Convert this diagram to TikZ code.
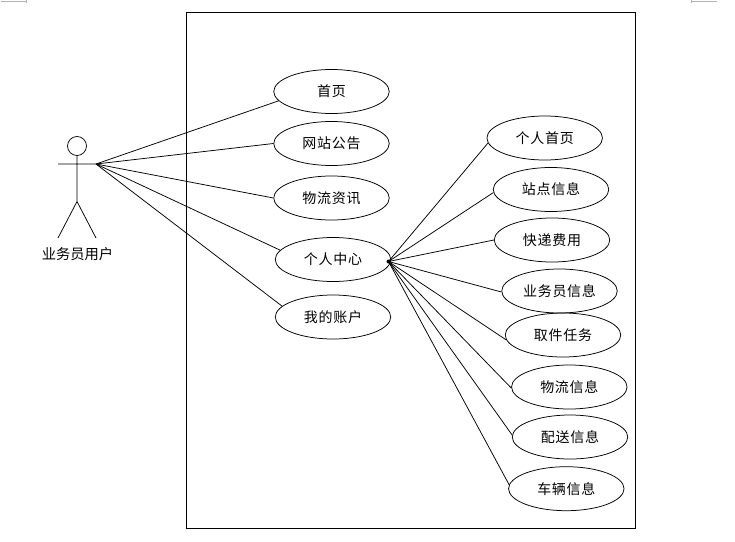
\documentclass[tikz,border=0pt]{standalone}
\usepackage{fontspec}
\newfontfamily\cjkf[LetterSpace=5]{Noto Sans CJK SC}
\newfontfamily\cjkact{Noto Sans CJK SC}
\usetikzlibrary{shapes.geometric}
\tikzset{
  usecase/.style={draw=black,line width=0.75pt,ellipse,minimum width=115.5pt,minimum height=44pt,inner sep=0pt,font=\cjkf\fontsize{14}{16}\selectfont},
  link/.style={draw=black,line width=0.75pt},
  lbl/.style={inner sep=0pt,font=\cjkact\fontsize{14.3}{16}\selectfont}
}
\begin{document}
\begin{tikzpicture}[x=1pt,y=-1pt]
\useasboundingbox (0,0) rectangle (735,541);
\draw[gray!60,line width=0.75pt] (1,1.5) -- (26,1.5) (26,0) -- (26,2.5);
\draw[gray!60,line width=0.75pt] (717,1.5) -- (691,1.5) (691,0) -- (691,2.5);
\node[draw=black,line width=0.75pt,minimum width=449pt,minimum height=516pt,inner sep=0pt] (frame) at (410.5,270.5) {};
% actor
\node[draw=black,line width=0.75pt,circle,minimum size=19pt,inner sep=0pt] (head) at (77,146) {};
\coordinate (lhand) at (58,164);
\coordinate (hub) at (96,164);
\coordinate (hip) at (77,201.5);
\coordinate (lfoot) at (58,238);
\coordinate (rfoot) at (96,238);
\draw[link] (head) -- (hip) (lhand) -- (hub) (lfoot) -- (hip) -- (rfoot);
\node[lbl] (actor) at (77.5,254) {业务员用户};
% left use cases
\node[usecase] (a1) at (331.5,91.5) {首页};
\node[usecase] (a2) at (331.5,143.5) {网站公告};
\node[usecase] (a3) at (331.5,198) {物流资讯};
\node[usecase] (a4) at (333,259.5) {个人中心};
\node[usecase] (a5) at (333,317) {我的账户};
% right use cases
\node[usecase] (b1) at (544.7,138) {个人首页};
\node[usecase] (b2) at (551,189.5) {站点信息};
\node[usecase] (b3) at (552,240) {快递费用};
\node[usecase] (b4) at (559.5,291) {业务员信息};
\node[usecase] (b5) at (563,335) {取件任务};
\node[usecase] (b6) at (569.3,387) {物流信息};
\node[usecase] (b7) at (570,437) {配送信息};
\node[usecase] (b8) at (566.3,488.7) {车辆信息};
\draw[link] (hub) -- (a1.190);
\draw[link] (hub) -- (a2.180);
\draw[link] (hub) -- (a3.180);
\draw[link] (hub) -- (a4.170);
\draw[link] (hub) -- (a5.168);
\coordinate (hubb) at (388.5,261.5);
\fill (hubb) circle (2pt);
\draw[link] (hubb) -- (b1.185);
\draw[link] (hubb) -- (b2.183);
\draw[link] (hubb) -- (b3.180);
\draw[link] (hubb) -- (b4.181);
\draw[link] (hubb) -- (b5.185);
\draw[link] (hubb) -- (b6.181);
\draw[link] (hubb) -- (b7.178);
\draw[link] (hubb) -- (b8.176);
\end{tikzpicture}
\end{document}
